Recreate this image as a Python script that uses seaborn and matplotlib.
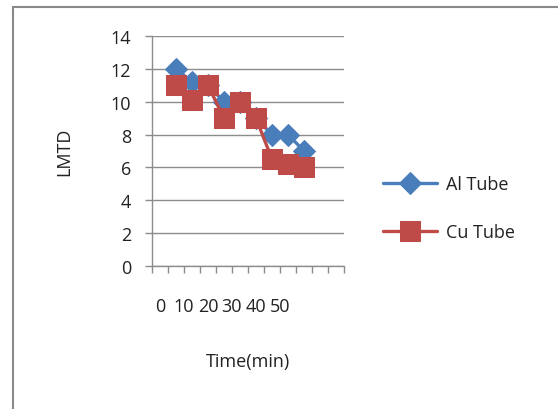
import matplotlib
matplotlib.use("Agg")
import matplotlib.pyplot as plt
import seaborn as sns
import pandas as pd
from matplotlib.patches import Rectangle

# Data (category slot index along the axis, value)
al_slots = [1, 2, 3, 4, 5, 6, 7, 8, 9]
al_lmtd = [12.0, 11.2, 11.0, 10.0, 10.0, 9.0, 8.0, 8.0, 7.0]
cu_slots = [1, 2, 3, 4, 5, 6, 7, 8, 9]
cu_lmtd = [11.0, 10.1, 11.0, 9.0, 10.0, 9.0, 6.5, 6.2, 6.0]
x_tick_labels = ["0", "10", "20", "30", "40", "50"]
y_ticks = [0, 2, 4, 6, 8, 10, 12, 14]
series_names = ["Al Tube", "Cu Tube"]

sns.set_style("white")
plt.rcParams['font.family'] = ['Open Sans', 'DejaVu Sans']

W, H = 558, 410
fig = plt.figure(figsize=(W / 100, H / 100), dpi=100)
ax = fig.add_axes([152 / W, 1 - 267 / H, (344 - 152) / W, (267 - 37) / H])

df = pd.concat([
    pd.DataFrame({"x": [s + 0.5 for s in al_slots], "y": al_lmtd, "series": series_names[0]}),
    pd.DataFrame({"x": [s + 0.5 for s in cu_slots], "y": cu_lmtd, "series": series_names[1]}),
])

blue = "#4A7EBB"
red = "#BE4B48"
sns.lineplot(data=df[df.series == series_names[0]], x="x", y="y", ax=ax, color=blue,
             marker="D", markersize=11, markeredgecolor=blue, linewidth=2.4,
             label=series_names[0], zorder=3)
sns.lineplot(data=df[df.series == series_names[1]], x="x", y="y", ax=ax, color=red,
             marker="s", markersize=14, markeredgecolor=red, linewidth=2.4,
             label=series_names[1], zorder=4)

ax.set_xlim(0, 12)
ax.set_ylim(0, 14)
ax.set_yticks(y_ticks)
ax.set_yticklabels([str(v) for v in y_ticks], fontsize=13, color="#222222")
ax.yaxis.grid(True, color="#8C8C8C", linewidth=1.0)
ax.set_axisbelow(True)

ax.xaxis.remove_overlapping_locs = False
ax.set_xticks(range(0, 13))
ax.set_xticklabels([])
ax.set_xticks([0.5 + 1.5 * i for i in range(len(x_tick_labels))], minor=True)
ax.set_xticklabels(x_tick_labels, minor=True, fontsize=13, color="#222222")
ax.tick_params(axis="x", which="major", direction="out", length=5, color="#8C8C8C", width=1, bottom=True)
ax.tick_params(axis="x", which="minor", length=0, pad=22)
ax.tick_params(axis="y", which="major", direction="out", length=5, color="#8C8C8C", width=1, left=True, pad=10)

for side in ["top", "right"]:
    ax.spines[side].set_visible(False)
for side in ["left", "bottom"]:
    ax.spines[side].set_color("#8C8C8C")
    ax.spines[side].set_linewidth(1.0)

ax.set_xlabel("Time(min)", fontsize=13, color="#222222", labelpad=27)
ax.set_ylabel("LMTD", fontsize=13, color="#222222", labelpad=27)

leg = ax.legend(loc="center left", bbox_to_anchor=(367 / W, 1 - 209 / H),
                bbox_transform=fig.transFigure, frameon=False, fontsize=13,
                handlelength=3.0, handletextpad=0.5, labelspacing=1.65)
for t in leg.get_texts():
    t.set_color("#222222")

fig.patches.append(Rectangle((13 / W, -0.02), 1.1, 1 - 8 / H + 0.02, transform=fig.transFigure,
                             fill=False, edgecolor="#8A8A8A", linewidth=1.5))

fig.savefig("out.png", dpi=100, facecolor="white")
